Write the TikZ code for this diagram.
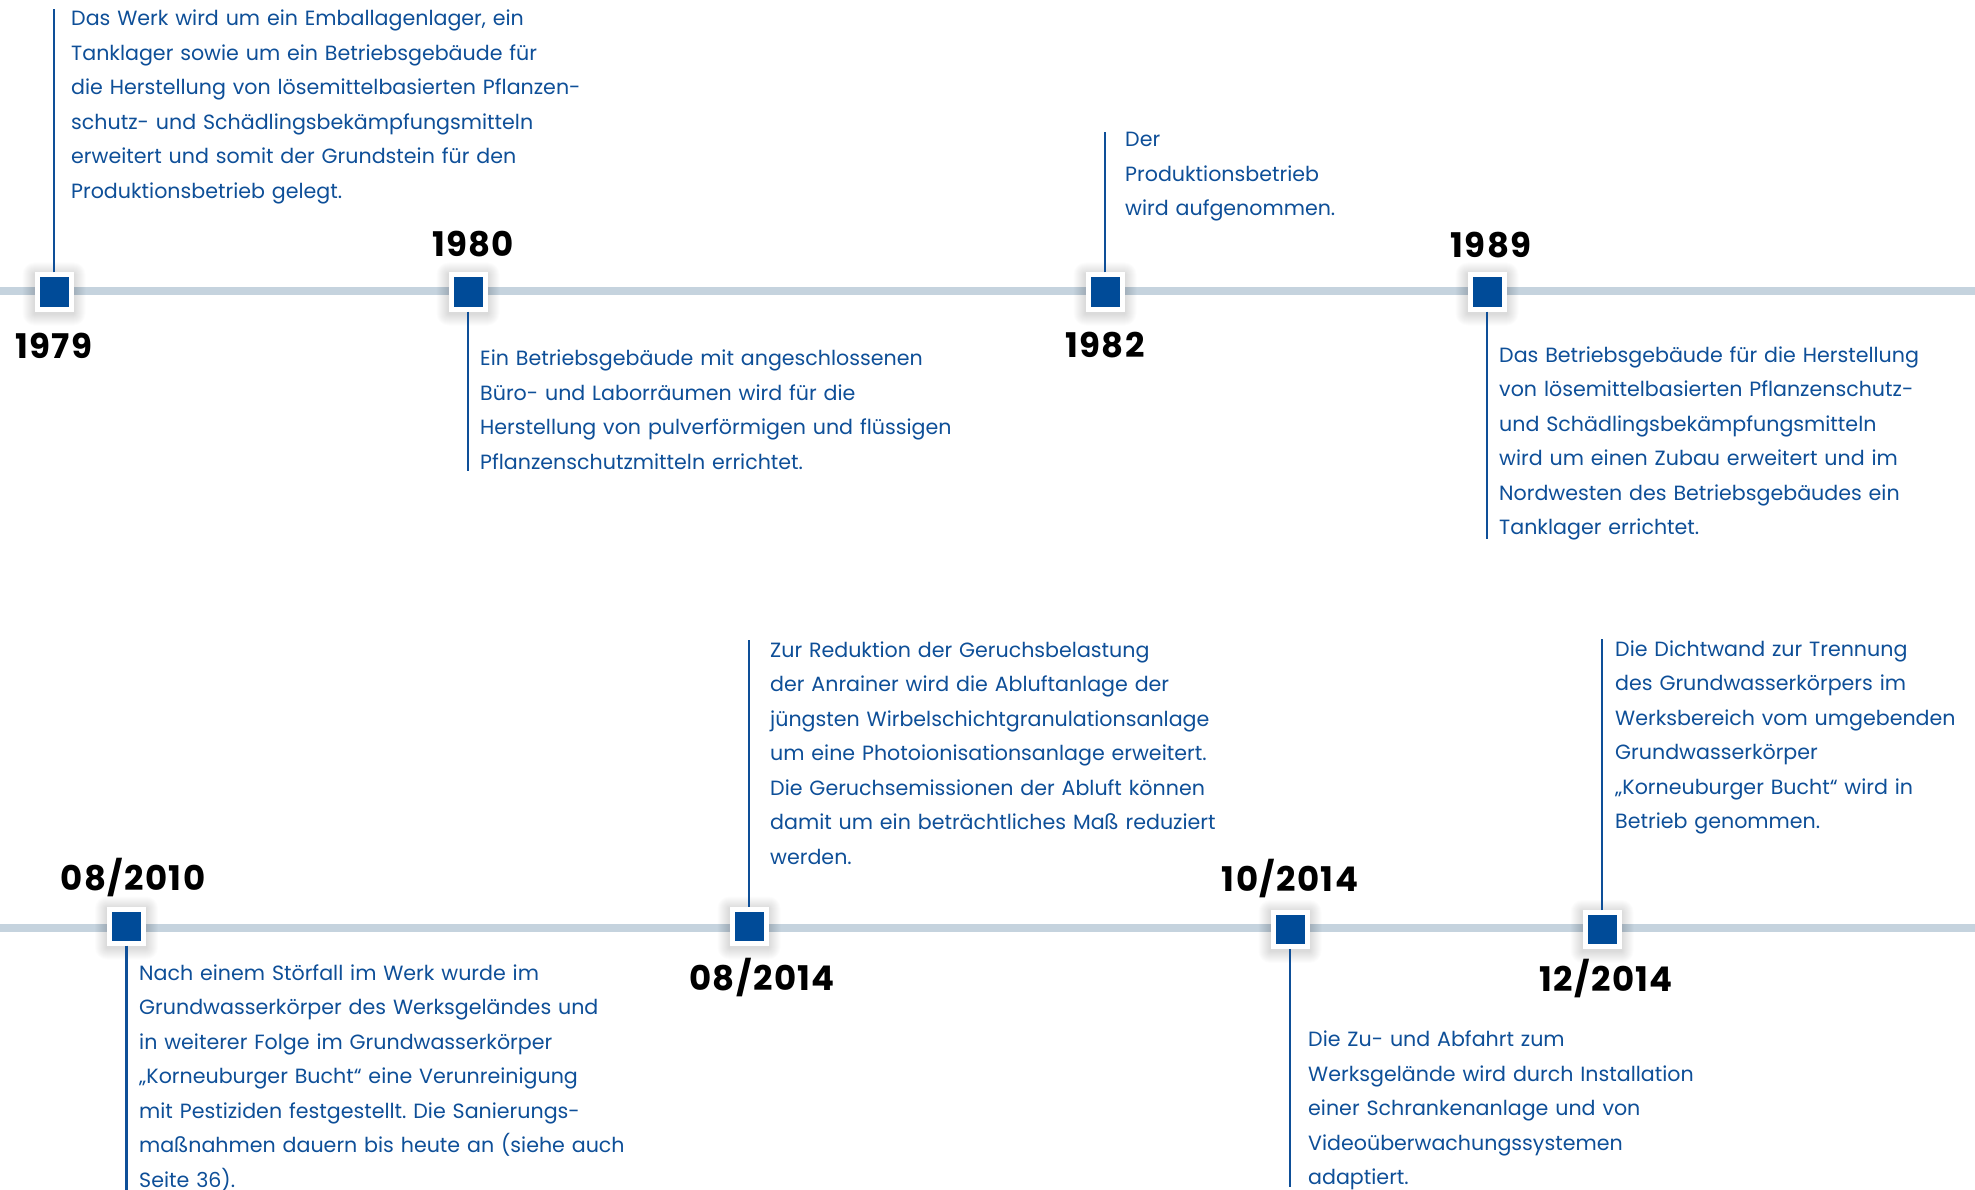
\documentclass[tikz,border=0pt]{standalone}
\usepackage{fontspec}
\setmainfont{Poppins}
\newfontfamily\yearfont{Poppins}[LetterSpace=4]
\frenchspacing
\definecolor{tlblue}{RGB}{0,75,152}
\definecolor{txtblue}{RGB}{14,79,152}
\definecolor{tlgray}{RGB}{197,211,222}
\tikzset{
  timeline/.style={tlgray, line width=7.5pt},
  conn/.style={txtblue, line width=2.6pt},
  yearlbl/.style={font=\yearfont\fontsize{34}{34}\selectfont\bfseries, text=black, inner sep=0pt, anchor=base},
  desc/.style={font=\fontsize{20.6}{34.5}\selectfont\frenchspacing, text=txtblue, inner sep=0pt, anchor=base west, align=left, text width=700pt},
  marker/.style={fill=tlblue, draw=white, line width=5pt, minimum size=34pt, inner sep=0pt}
}
\newcommand\mshadow[2]{\foreach \r in {1,...,12}{\fill[black,opacity=0.012,rounded corners=\r pt] (#1-19.5-\r, #2+2-19.5-\r) rectangle (#1+19.5+\r, #2+2+19.5+\r);}}
\newcommand\yslash{\kern1.5pt/\kern1.5pt}
\begin{document}
\begin{tikzpicture}[x=1pt,y=-1pt]
\useasboundingbox (0,0) rectangle (1975,1190);
\fill[white] (0,0) rectangle (1975,1190);
% timelines
\coordinate (tl1a) at (0,291);
\coordinate (tl1b) at (1975,291);
\coordinate (tl2a) at (0,928);
\coordinate (tl2b) at (1975,928);
\draw[timeline] (tl1a) -- (tl1b);
\draw[timeline] (tl2a) -- (tl2b);
% shadows
\mshadow{54}{292}
\mshadow{468}{292}
\mshadow{1105}{292}
\mshadow{1487}{292}
\mshadow{126.5}{926}
\mshadow{749}{926}
\mshadow{1290}{929.5}
\mshadow{1602}{929.5}
% markers
\node[marker] (m79) at (54,292) {};
\node[marker] (m80) at (468,292) {};
\node[marker] (m82) at (1105,292) {};
\node[marker] (m89) at (1487,292) {};
\node[marker] (m10) at (126.5,926) {};
\node[marker] (m14a) at (749,926) {};
\node[marker] (m14b) at (1290,929.5) {};
\node[marker] (m14c) at (1602,929.5) {};
% connector ends
\coordinate (c79) at (54,9);
\coordinate (c80) at (468,471);
\coordinate (c82) at (1105,132);
\coordinate (c89) at (1487,539);
\coordinate (c10) at (126.5,1190);
\coordinate (c14a) at (749,640);
\coordinate (c14b) at (1290,1187);
\coordinate (c14c) at (1602,639);
\draw[conn] (m79.north) -- (c79);
\draw[conn] (m80.south) -- (c80);
\draw[conn] (m82.north) -- (c82);
\draw[conn] (m89.south) -- (c89);
\draw[conn] (m10.south) -- (c10);
\draw[conn] (m14a.north) -- (c14a);
\draw[conn] (m14b.south) -- (c14b);
\draw[conn] (m14c.north) -- (c14c);
% years
\node[yearlbl] (y79) at (54,358) {1979};
\node[yearlbl] (y80) at (473,257) {1980};
\node[yearlbl] (y82) at (1105,357) {1982};
\node[yearlbl] (y89) at (1491,258) {1989};
\node[yearlbl] (y10) at (133,890) {08\yslash2010};
\node[yearlbl] (y14a) at (762,990) {08\yslash2014};
\node[yearlbl] (y14b) at (1290,891.5) {10\yslash2014};
\node[yearlbl] (y14c) at (1606,991.5) {12\yslash2014};
% descriptions
\node[desc] (t79) at (71,26) {Das Werk wird um ein Emballagenlager, ein\\
Tanklager sowie um ein Betriebsgebäude für\\
die Herstellung von lösemittelbasierten Pflanzen-\\
schutz- und Schädlingsbekämpfungsmitteln\\
erweitert und somit der Grundstein für den\\
Produktionsbetrieb gelegt.};
\node[desc] (t80) at (480,365.7) {Ein Betriebsgebäude mit angeschlossenen\\
Büro- und Laborräumen wird für die\\
Herstellung von pulverförmigen und flüssigen\\
Pflanzenschutzmitteln errichtet.};
\node[desc] (t82) at (1125,146.6) {Der\\
Produktionsbetrieb\\
wird aufgenommen.};
\node[desc] (t89) at (1499,362) {Das Betriebsgebäude für die Herstellung\\
von lösemittelbasierten Pflanzenschutz-\\
und Schädlingsbekämpfungsmitteln\\
wird um einen Zubau erweitert und im\\
Nordwesten des Betriebsgebäudes ein\\
Tanklager errichtet.};
\node[desc] (t10) at (139,980.4) {Nach einem Störfall im Werk wurde im\\
Grundwasserkörper des Werksgeländes und\\
in weiterer Folge im Grundwasserkörper\\
„Korneuburger Bucht“ eine Verunreinigung\\
mit Pestiziden festgestellt. Die Sanierungs-\\
maßnahmen dauern bis heute an (siehe auch\\
Seite 36).};
\node[desc] (t14a) at (770,657) {Zur Reduktion der Geruchsbelastung\\
der Anrainer wird die Abluftanlage der\\
jüngsten Wirbelschichtgranulationsanlage\\
um eine Photoionisationsanlage erweitert.\\
Die Geruchsemissionen der Abluft können\\
damit um ein beträchtliches Maß reduziert\\
werden.};
\node[desc] (t14b) at (1308,1046.7) {Die Zu- und Abfahrt zum\\
Werksgelände wird durch Installation\\
einer Schrankenanlage und von\\
Videoüberwachungssystemen\\
adaptiert.};
\node[desc] (t14c) at (1615,656) {Die Dichtwand zur Trennung\\
des Grundwasserkörpers im\\
Werksbereich vom umgebenden\\
Grundwasserkörper\\
„Korneuburger Bucht“ wird in\\
Betrieb genommen.};
\end{tikzpicture}
\end{document}
